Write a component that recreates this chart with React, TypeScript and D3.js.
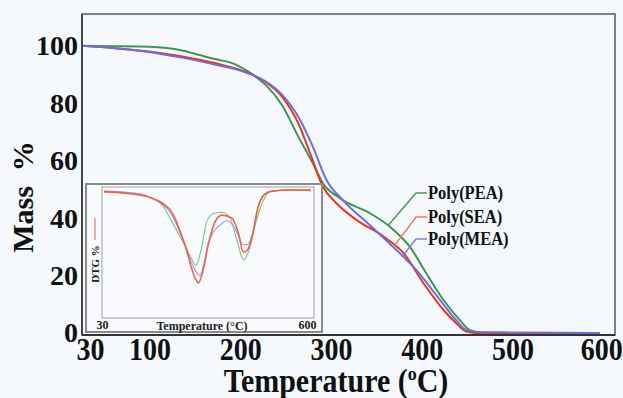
import * as d3 from "d3";
import React, { useEffect, useRef } from "react";

// main TGA curves: [temperature °C, mass %]
const peaMass = [[26, 100], [60, 99.9], [100, 99.7], [136, 98.4], [154, 96.9], [172, 95.4], [191, 94], [209, 91], [228, 86.4], [246, 79.4], [264, 68.4], [280, 59.1], [291, 52.2], [310, 46.9], [343, 41.7], [365, 37], [387, 30], [405, 20.8], [424, 11.5], [442, 4.5], [453, 1], [465, 0.2], [500, 0], [596, 0]];
const seaMass = [[26, 100], [62, 99.2], [99, 98], [136, 96.3], [172, 94], [202, 91.4], [227, 87.6], [246, 82.3], [264, 73], [277, 62.6], [291, 51], [306, 45.2], [328, 39.4], [358, 33.6], [380, 27.8], [402, 17.3], [424, 8], [438, 3.4], [449, 0.5], [460, 0], [596, 0]];
const meaMass = [[26, 100], [62, 99.2], [99, 97.9], [136, 95.9], [172, 93.5], [202, 91.2], [227, 87.8], [246, 83], [266, 74.2], [280, 64.9], [295, 53.3], [313, 46.3], [343, 37.5], [380, 26.5], [394, 22], [416, 13.2], [438, 4.5], [449, 1], [465, 0.3], [500, 0.2], [596, 0]];

// inset DTG curves: [temperature °C, DTG (arb.)]
const peaDtg = [[30, -1], [129, -4], [162, -9], [190, -16], [217, -34], [245, -54], [270, -73], [283, -81], [297, -65], [313, -34], [333, -25], [354, -24], [377, -30], [396, -54], [414, -75], [429, -65], [446, -38], [469, -11], [487, -2], [542, 0], [600, -1]];
const seaDtg = [[30, -2], [102, -4], [157, -8], [190, -14], [217, -24], [253, -59], [281, -95], [290, -100], [303, -86], [317, -59], [336, -34], [354, -27], [382, -30], [399, -45], [414, -67], [424, -65], [437, -52], [454, -19], [471, -5], [493, -1], [542, 0], [600, 0]];
const meaDtg = [[30, -1], [129, -4], [162, -9], [190, -15], [217, -27], [253, -59], [278, -84], [294, -92], [305, -80], [316, -59], [330, -46], [349, -38], [368, -33], [385, -38], [399, -48], [414, -59], [427, -58], [438, -48], [454, -19], [471, -5], [493, -1], [542, 0], [600, 0]];

const seriesNames = ["Poly(PEA)", "Poly(SEA)", "Poly(MEA)"];
const seriesColors = ["#3f9650", "#e8351f", "#6e6ed6"];
const insetColors = ["#7cc47c", "#f0604a", "#9a9ae6"];
const leaderColors = ["#4a9a55", "#f07a5a", "#8282d8"];
const leaderAnchorT = [363, 370, 379];

const xTicks = [30, 100, 200, 300, 400, 500, 600];
const yTicks = [0, 20, 40, 60, 80, 100];

const FONT = "'Liberation Serif', 'Times New Roman', serif";

const interp = (pts, t) => {
  for (let i = 1; i < pts.length; i++) {
    if (t <= pts[i][0]) {
      const [t0, v0] = pts[i - 1];
      const [t1, v1] = pts[i];
      return v0 + ((t - t0) / (t1 - t0)) * (v1 - v0);
    }
  }
  return pts[pts.length - 1][1];
};

const TgaChart = ({ width = 623, height = 398 }) => {
  const svgRef = useRef(null);

  useEffect(() => {
    const svg = d3.select(svgRef.current);
    svg.selectAll("*").remove();
    svg.attr("width", width).attr("height", height);

    const box = { left: 82, top: 14, right: 615, bottom: 335 };

    svg.append("rect").attr("width", width).attr("height", height).attr("fill", "#f5f8fc");

    const x = d3.scaleLinear().domain([25.6, 613]).range([box.left, box.right]);
    const y = d3.scaleLinear().domain([-0.7, 111.1]).range([box.bottom, box.top]);

    // main curves
    const line = d3.line()
      .x(d => x(d[0]))
      .y(d => y(d[1]))
      .curve(d3.curveMonotoneX);

    [peaMass, seaMass, meaMass].forEach((data, i) => {
      svg.append("path")
        .datum(data)
        .attr("fill", "none")
        .attr("stroke", seriesColors[i])
        .attr("stroke-width", 2)
        .attr("d", line);
    });

    // frame
    svg.append("rect")
      .attr("x", box.left).attr("y", box.top)
      .attr("width", box.right - box.left).attr("height", box.bottom - box.top)
      .attr("fill", "none").attr("stroke", "#5a5a5a").attr("stroke-width", 1.5);
    svg.append("line")
      .attr("x1", box.left).attr("x2", box.right).attr("y1", box.bottom).attr("y2", box.bottom)
      .attr("stroke", "#333").attr("stroke-width", 2);
    svg.append("line")
      .attr("x1", box.left).attr("x2", box.left).attr("y1", box.top).attr("y2", box.bottom)
      .attr("stroke", "#444").attr("stroke-width", 2);

    // axes (labels only)
    const xAxis = svg.append("g")
      .attr("transform", `translate(0, ${box.bottom})`)
      .call(d3.axisBottom(x).tickValues(xTicks).tickSize(0).tickPadding(3))
      .call(g => g.select(".domain").remove());
    xAxis.selectAll("text")
      .attr("fill", "#111")
      .attr("transform", "scale(1,1.1)")
      .style("font-family", FONT)
      .style("font-weight", "bold")
      .style("font-size", "28px");
    // end labels sit slightly inside their ticks in the reference
    xAxis.selectAll(".tick").filter(d => d === 30).select("text").attr("x", 4);
    xAxis.selectAll(".tick").filter(d => d === 600).select("text").attr("x", -2);

    const yAxis = svg.append("g")
      .attr("transform", `translate(${box.left}, 0)`)
      .call(d3.axisLeft(y).tickValues(yTicks).tickSize(0).tickPadding(4))
      .call(g => g.select(".domain").remove());
    yAxis.selectAll("text")
      .attr("fill", "#111")
      .style("font-family", FONT)
      .style("font-weight", "bold")
      .style("font-size", "28px");

    // x title
    const xTitle = svg.append("text")
      .attr("transform", "translate(336, 392) scale(1,1.1)")
      .attr("text-anchor", "middle")
      .attr("fill", "#111")
      .style("font-family", FONT)
      .style("font-weight", "bold")
      .style("font-size", "30px");
    xTitle.append("tspan").text("Temperature (");
    xTitle.append("tspan").attr("dy", -11).style("font-size", "18px").text("o");
    xTitle.append("tspan").attr("dy", 11).text("C)");

    // y title
    svg.append("text")
      .attr("transform", "translate(33, 197) rotate(-90)")
      .attr("text-anchor", "middle")
      .attr("fill", "#111")
      .style("font-family", FONT)
      .style("font-weight", "bold")
      .style("font-size", "30px")
      .style("white-space", "pre")
      .text("Mass  %");

    // legend labels with leader lines
    const labelY = [193, 217, 239];
    seriesNames.forEach((name, i) => {
      const data = [peaMass, seaMass, meaMass][i];
      const t = leaderAnchorT[i];
      svg.append("polyline")
        .attr("points", `427,${labelY[i]} 416,${labelY[i]} ${x(t)},${y(interp(data, t))}`)
        .attr("fill", "none")
        .attr("stroke", leaderColors[i])
        .attr("stroke-width", 1.5);
      svg.append("text")
        .attr("transform", `translate(428, ${labelY[i]}) scale(1,1.08)`)
        .attr("dy", "0.35em")
        .attr("fill", "#111")
        .style("font-family", FONT)
        .style("font-weight", "bold")
        .style("font-size", "16.5px")
        .text(name);
    });

    // inset DTG plot
    const inset = { left: 102, top: 187, right: 314, bottom: 318 };
    svg.append("rect")
      .attr("x", 86).attr("y", 184).attr("width", 236).attr("height", 148)
      .attr("fill", "#f8fafd").attr("stroke", "#8a8a8a").attr("stroke-width", 2);
    svg.append("rect")
      .attr("x", inset.left).attr("y", inset.top)
      .attr("width", inset.right - inset.left).attr("height", inset.bottom - inset.top)
      .attr("fill", "none").attr("stroke", "#a0a0a0").attr("stroke-width", 1);

    const xi = d3.scaleLinear().domain([30, 600]).range([104, 311]);
    const yi = d3.scaleLinear().domain([-100, 0]).range([283, 190]);
    const insetLine = d3.line()
      .x(d => xi(d[0]))
      .y(d => yi(d[1]))
      .curve(d3.curveMonotoneX);

    [peaDtg, meaDtg, seaDtg].forEach((data, k) => {
      const i = [0, 2, 1][k];
      svg.append("path")
        .datum(data)
        .attr("fill", "none")
        .attr("stroke", insetColors[i])
        .attr("stroke-width", i === 1 ? 1.6 : 1.1)
        .attr("d", insetLine);
    });

    const insetText = (tx, ty, anchor, txt, size) =>
      svg.append("text")
        .attr("x", tx).attr("y", ty)
        .attr("text-anchor", anchor)
        .attr("dy", "0.35em")
        .attr("fill", "#222")
        .style("font-family", FONT)
        .style("font-weight", "bold")
        .style("font-size", `${size}px`)
        .text(txt);

    insetText(xi(30) - 1.5, 325, "middle", "30", 12);
    insetText(xi(600) - 3.5, 325, "middle", "600", 12);
    insetText(202, 325.5, "middle", "Temperature (\u00b0C)", 12);

    svg.append("text")
      .attr("transform", "translate(95, 264) rotate(-90)")
      .attr("text-anchor", "middle")
      .attr("dy", "0.35em")
      .attr("fill", "#222")
      .style("font-family", FONT)
      .style("font-weight", "bold")
      .style("font-size", "11px")
      .text("DTG %");
    svg.append("line")
      .attr("x1", 95).attr("x2", 95).attr("y1", 218).attr("y2", 240)
      .attr("stroke", "#f0604a").attr("stroke-width", 1);
  }, [width, height]);

  return <svg ref={svgRef} style={{ display: "block" }}></svg>;
};

export default function App() {
  return (
    <div style={{ position: "absolute", left: 0, top: 0 }}>
      <TgaChart width={623} height={398} />
    </div>
  );
}
